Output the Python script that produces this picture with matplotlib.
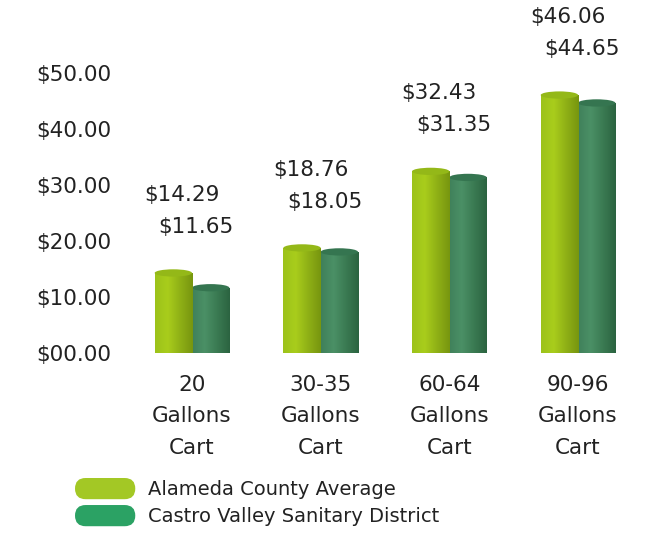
import numpy as np
import matplotlib.pyplot as plt
from matplotlib.patches import Ellipse, FancyBboxPatch, Patch
from matplotlib.legend_handler import HandlerPatch
from matplotlib.colors import LinearSegmentedColormap

# data
categories = ['20\nGallons\nCart', '30-35\nGallons\nCart',
              '60-64\nGallons\nCart', '90-96\nGallons\nCart']
alameda = [14.29, 18.76, 32.43, 46.06]
castro = [11.65, 18.05, 31.35, 44.65]
series_names = ['Alameda County Average', 'Castro Valley Sanitary District']
y_ticks = [0, 10, 20, 30, 40, 50]

# styles
light_cmap = LinearSegmentedColormap.from_list('light', ['#9cc21a', '#a9cd1c', '#8fb016', '#77950f'])
dark_cmap = LinearSegmentedColormap.from_list('dark', ['#3f805a', '#4b9066', '#3a7a52', '#2b6340'])
light_cap = '#94b818'
dark_cap = '#357550'
legend_colors = ['#a3c825', '#2ba264']
text_color = '#222222'

plt.rcParams['font.family'] = ['DejaVu Sans']

fig = plt.figure(figsize=(6.53, 5.34), dpi=100)
ax = fig.add_axes([118 / 653, 0.339, (629.5 - 118) / 653, 0.6292])

x = np.arange(len(categories))
w = 0.29
cap_h = 1.3
grad = np.linspace(0, 1, 256).reshape(1, -1)


def cylinder(xc, h, cmap, cap_color, z):
    bar = ax.bar(xc, h, width=w, color='none', zorder=z)[0]
    x0 = xc - w / 2
    img = ax.imshow(grad, cmap=cmap, extent=(x0, x0 + w, -cap_h, h),
                    aspect='auto', zorder=z, interpolation='bilinear')
    img.set_clip_path(bar)
    bottom = Ellipse((xc, 0), w, cap_h, facecolor='none', edgecolor='none', zorder=z)
    ax.add_patch(bottom)
    img2 = ax.imshow(grad, cmap=cmap, extent=(x0, x0 + w, -cap_h, h),
                     aspect='auto', zorder=z, interpolation='bilinear')
    img2.set_clip_path(bottom)
    ax.add_patch(Ellipse((xc, h), w, cap_h, facecolor=cap_color,
                         edgecolor='none', zorder=z + 0.5))


for i in range(len(categories)):
    cylinder(x[i] + w / 2, castro[i], dark_cmap, dark_cap, 2)
    cylinder(x[i] - w / 2, alameda[i], light_cmap, light_cap, 3)
    ax.annotate(f'${alameda[i]:.2f}', xy=(x[i], alameda[i]), xytext=(-10, 78),
                textcoords='offset pixels', ha='center', va='center',
                fontsize=15.5, color=text_color, annotation_clip=False)
    ax.annotate(f'${castro[i]:.2f}', xy=(x[i], alameda[i]), xytext=(4, 46),
                textcoords='offset pixels', ha='center', va='center',
                fontsize=15.5, color=text_color, annotation_clip=False)

ax.set_xlim(-0.575, 3.4)
ax.set_ylim(0, 60)
ax.set_xticks(x, categories)
ax.set_yticks(y_ticks, [f'${v:05.2f}' for v in y_ticks])
ax.tick_params(axis='x', length=0, pad=16, labelsize=15.5, labelcolor=text_color)
ax.tick_params(axis='y', length=0, pad=5, labelsize=15.5, labelcolor=text_color)
for lab in ax.get_xticklabels():
    lab.set_linespacing(1.7)
for s in ax.spines.values():
    s.set_visible(False)


def pill(legend, orig_handle, xdescent, ydescent, width, height, fontsize):
    return FancyBboxPatch((-xdescent, -ydescent), width, height,
                          boxstyle=f'round,pad=0,rounding_size={height / 2}')


handles = [Patch(facecolor=c, edgecolor='none') for c in legend_colors]
fig.legend(handles, series_names, loc='upper left',
           bbox_to_anchor=(75 / 653, 1 - 478 / 534), frameon=False,
           fontsize=14, handlelength=3.1, handleheight=1.3, labelspacing=0.3,
           handletextpad=0.65, borderpad=0, borderaxespad=0, labelcolor=text_color,
           handler_map={Patch: HandlerPatch(patch_func=pill)})

fig.savefig('out.png', dpi=100)
